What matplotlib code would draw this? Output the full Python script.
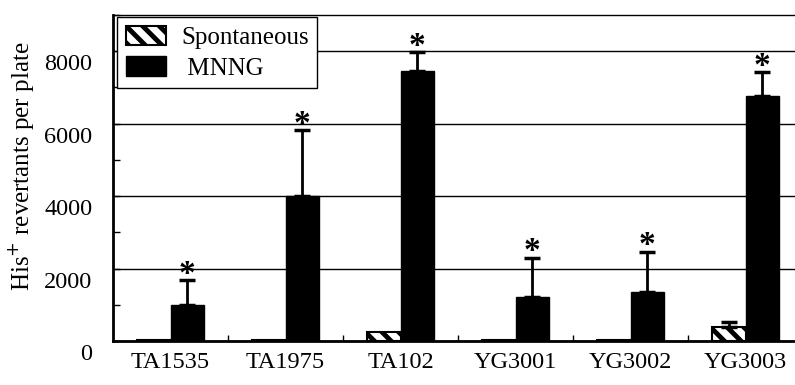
import numpy as np
import matplotlib
matplotlib.use('Agg')
import matplotlib.pyplot as plt
import matplotlib.transforms as mtransforms
from matplotlib.ticker import MultipleLocator

# === Data ===
strains = ['TA1535', 'TA1975', 'TA102', 'YG3001', 'YG3002', 'YG3003']
spont = [25, 20, 260, 20, 20, 390]
spont_err = [0, 0, 0, 0, 0, 140]
mnng = [1000, 4000, 7450, 1220, 1360, 6760]
mnng_err = [690, 1820, 530, 1080, 1110, 660]
significant = [True, True, True, True, True, True]

plt.rcParams['font.family'] = ['Liberation Serif', 'DejaVu Serif']
plt.rcParams['hatch.linewidth'] = 3.5

# === Setup plot ===
fig = plt.figure(figsize=(7.95, 3.85), dpi=100)
ax = fig.add_axes([113 / 795, 44 / 385, 690 / 795, 326 / 385])

x = np.arange(len(strains))
w = 0.295

ax.bar(x - w / 2, spont, w, color='white', edgecolor='black', hatch='\\\\',
       linewidth=1.5, label='Spontaneous', zorder=3)
ax.bar(x + w / 2, mnng, w, color='black', edgecolor='black',
       label=' MNNG', zorder=3)

# upward-only error bars
ax.errorbar(x + w / 2, mnng, yerr=[np.zeros(len(mnng)), mnng_err], fmt='none',
            ecolor='black', elinewidth=2, capsize=6, capthick=2.5, zorder=4)
for i in range(len(strains)):
    if spont_err[i] > 0:
        ax.errorbar(x[i] - w / 2, spont[i], yerr=[[0], [spont_err[i]]], fmt='none',
                    ecolor='black', elinewidth=2, capsize=6, capthick=2.5, zorder=4)

# significance stars
for i in range(len(strains)):
    if significant[i]:
        ax.annotate('*', (x[i] + w / 2, mnng[i] + mnng_err[i]), xytext=(0, -2),
                    textcoords='offset points', ha='center', va='baseline',
                    fontsize=24, fontweight='bold')

ax.set_xlim(-0.5, len(strains) - 0.5)
ax.set_ylim(0, 9000)
ax.set_yticks([0, 2000, 4000, 6000, 8000])
ax.yaxis.set_minor_locator(MultipleLocator(1000))
ax.grid(axis='y', which='major', color='black', linewidth=1, zorder=0)
ax.set_axisbelow(True)

ax.set_xticks(x)
ax.set_xticklabels(strains, fontsize=17.5)
ax.set_xticks(np.arange(0.5, len(strains) - 0.5, 1), minor=True)
ax.tick_params(axis='x', which='major', length=0, pad=8)
ax.tick_params(axis='x', which='minor', direction='in', length=4, width=1)
ax.tick_params(axis='y', which='both', direction='in', length=5, width=1,
               labelsize=17.5, pad=15)

# labels sit a little low in the original
offset = mtransforms.ScaledTranslation(0, -8 / 72, fig.dpi_scale_trans)
for lab in ax.get_yticklabels():
    lab.set_transform(lab.get_transform() + offset)

ax.set_ylabel('His$^{+}$ revertants per plate', fontsize=18, labelpad=6)
ax.yaxis.label.set_y(0.535)

for s in ['left', 'bottom']:
    ax.spines[s].set_linewidth(2)
ax.spines['top'].set_linewidth(1)
ax.spines['top'].set_linestyle((0, (6, 1)))
ax.spines['right'].set_visible(False)

leg = ax.legend(loc='upper left', bbox_to_anchor=(0.006, 0.994), fontsize=18,
                frameon=True, fancybox=False, edgecolor='black', framealpha=1,
                handlelength=1.6, handleheight=0.8, borderpad=0.35,
                labelspacing=0.3, handletextpad=0.6, borderaxespad=0)
leg.get_frame().set_linewidth(1)
leg.set_zorder(5)

fig.savefig('out.png', dpi=100)
